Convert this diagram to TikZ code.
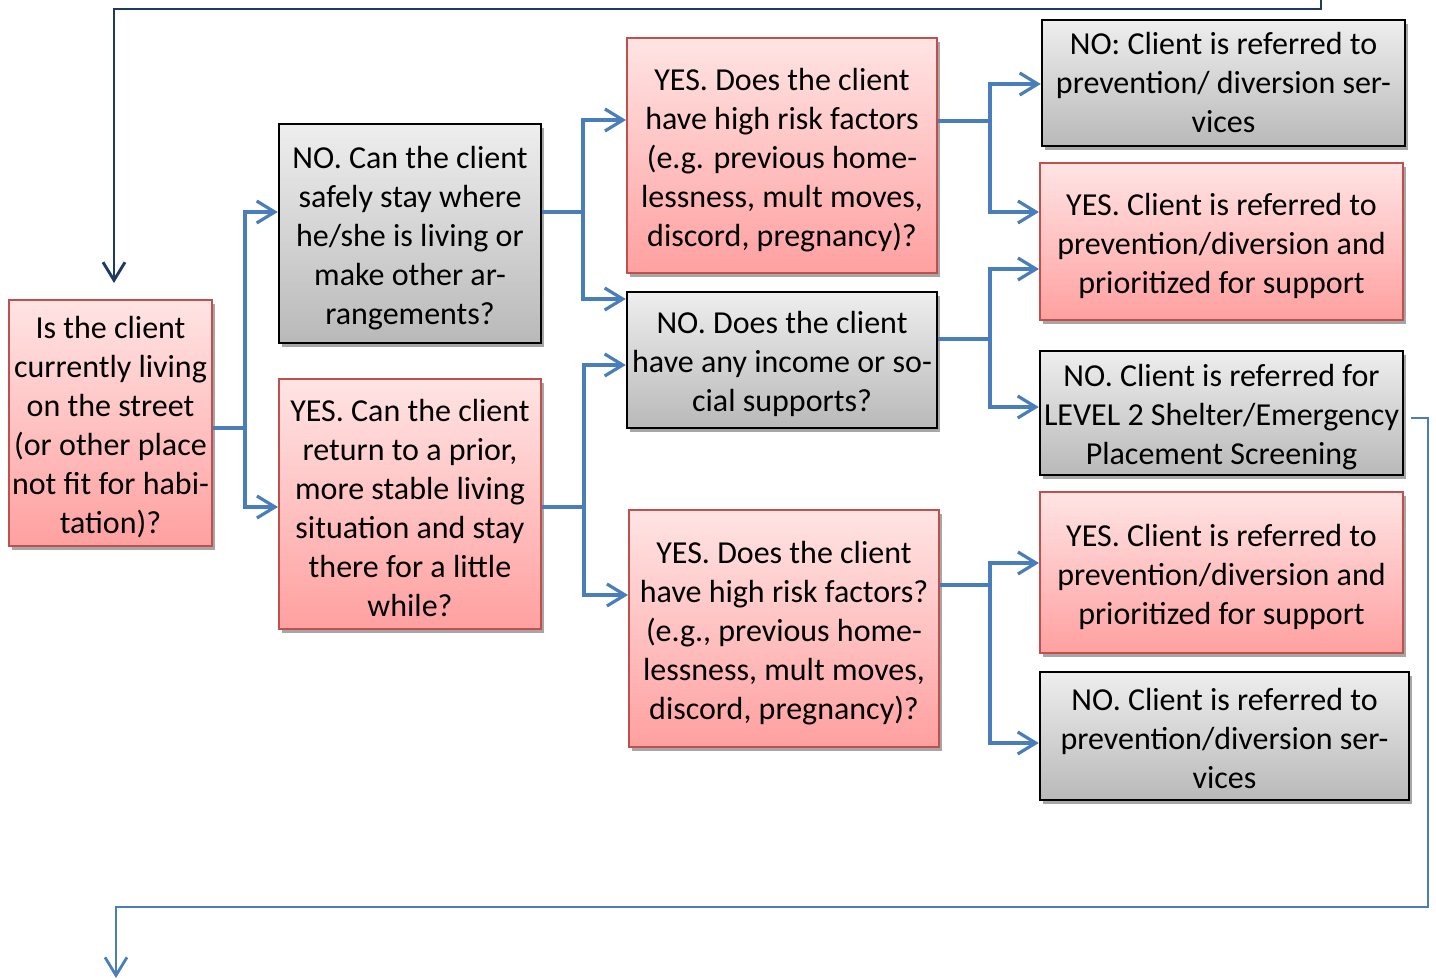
\documentclass[tikz,border=0pt]{standalone}
\usepackage{fontspec}
\setmainfont{Carlito}
\usetikzlibrary{arrows.meta}

\definecolor{linkblue}{HTML}{4A7EBB}
\definecolor{darkblue}{HTML}{1F3A60}
\definecolor{redborder}{HTML}{C0504D}
\definecolor{redtop}{HTML}{FFE4E4}
\definecolor{redbottom}{HTML}{FFA0A0}
\definecolor{graytop}{HTML}{EEEEEE}
\definecolor{graybottom}{HTML}{B9B9B9}

% taller first line, so the text block sits a little lower in its box
\newcommand\firstline{\rule{0pt}{31pt}}
\newcommand\firstlinesmall{\rule{0pt}{27pt}}

\tikzset{
  box/.style={rectangle, inner sep=0pt, align=center,
    font=\fontsize{32}{39}\selectfont,
    preaction={fill=black!35, transform canvas={xshift=3pt,yshift=-4pt}}},
  yesbox/.style={box, draw=redborder, line width=2pt,
    top color=redtop, bottom color=redbottom},
  nobox/.style={box, draw=black, line width=2.5pt,
    top color=graytop, bottom color=graybottom},
  link/.style={draw=linkblue, line width=3.2pt},
  arr/.style={link, -{Straight Barb[length=18pt,width=22pt]}},
  backlink/.style={draw=darkblue, line width=2.9pt,
    -{Straight Barb[length=18pt,width=22pt]}},
}

\begin{document}
\begin{tikzpicture}[x=1pt,y=-1pt]
\useasboundingbox (0,0) rectangle (1436,979);

% first question
\node[yesbox, minimum width=203pt, minimum height=246pt] (A) at (110.5,423)
  {\firstline Is the client\\currently living\\on the street\\(or other place\\not fit for habi-\\tation)?};

% second column
\node[nobox, minimum width=262pt, minimum height=219pt] (B) at (410,233.5)
  {\firstline NO. Can the client\\safely stay where\\he/she is living or\\make other ar-\\rangements?};
\node[yesbox, minimum width=262pt, minimum height=250pt] (C) at (410,504)
  {\firstline YES. Can the client\\return to a prior,\\more stable living\\situation and stay\\there for a little\\while?};

% third column
\node[yesbox, minimum width=310pt, minimum height=235pt] (D) at (782,155.5)
  {\firstline YES. Does the client\\have high risk factors\\(e.g. previous home-\\lessness, mult moves,\\discord, pregnancy)?};
\node[nobox, minimum width=310pt, minimum height=136pt] (E) at (782,360)
  {\firstline NO. Does the client\\have any income or so-\\cial supports?};
\node[yesbox, minimum width=310pt, minimum height=237pt] (F) at (784,628.5)
  {\firstline YES. Does the client\\have high risk factors?\\(e.g., previous home-\\lessness, mult moves,\\discord, pregnancy)?};

% outcomes
\node[nobox, minimum width=363pt, minimum height=126pt] (G) at (1223.5,83)
  {NO: Client is referred to\\prevention/ diversion ser-\\vices};
\node[yesbox, minimum width=363pt, minimum height=157pt] (H) at (1221.5,241.5)
  {\firstline YES. Client is referred to\\prevention/diversion and\\prioritized for support};
\node[nobox, minimum width=363pt, minimum height=124pt] (I) at (1221.5,413)
  {\firstline NO. Client is referred for\\LEVEL 2 Shelter/Emergency\\Placement Screening};
\node[yesbox, minimum width=363pt, minimum height=161pt] (J) at (1221.5,572.5)
  {\firstline YES. Client is referred to\\prevention/diversion and\\prioritized for support};
\node[nobox, minimum width=369pt, minimum height=128pt] (K) at (1224.5,736)
  {\firstlinesmall NO. Client is referred to\\prevention/diversion ser-\\vices};

% fork points of the connectors
\coordinate (fA) at (245,428);
\coordinate (fB) at (583,212);
\coordinate (fC) at (584,507);
\coordinate (fD) at (990,121);
\coordinate (fE) at (990,339);
\coordinate (fF) at (990,585);

\draw[link] ([yshift=-5pt]A.east) -- (fA);
\draw[arr] (fA) |- ([yshift=21.5pt]B.west);
\draw[arr] (fA) |- ([yshift=-3pt]C.west);

\draw[link] ([yshift=21.5pt]B.east) -- (fB);
\draw[arr] (fB) |- ([yshift=35.5pt]D.west);
\draw[arr] (fB) |- ([yshift=61pt]E.west);

\draw[link] ([yshift=-3pt]C.east) -- (fC);
\draw[arr] (fC) |- ([yshift=-5pt]E.west);
\draw[arr] (fC) |- ([yshift=33.5pt]F.west);

\draw[link] ([yshift=34.5pt]D.east) -- (fD);
\draw[arr] (fD) |- ([yshift=-1pt]G.west);
\draw[arr] (fD) |- ([yshift=29.5pt]H.west);

\draw[link] ([yshift=21pt]E.east) -- (fE);
\draw[arr] (fE) |- ([yshift=-27.5pt]H.west);
\draw[arr] (fE) |- ([yshift=6pt]I.west);

\draw[link] ([yshift=43.5pt]F.east) -- (fF);
\draw[arr] (fF) |- ([yshift=9.5pt]J.west);
\draw[arr] (fF) |- ([yshift=-7pt]K.west);

% loop back in from above
\coordinate (topin) at (1321,-2);
\coordinate (topout) at (114,283);
\draw[backlink] (topin) |- (114,9) -- (topout);

% level 2 screening continues below
\coordinate (botout) at (116,978);
\draw[arr, line width=2.8pt] ([yshift=-5pt,xshift=7pt]I.east) -| (1428,907) -| (botout);
\end{tikzpicture}
\end{document}
